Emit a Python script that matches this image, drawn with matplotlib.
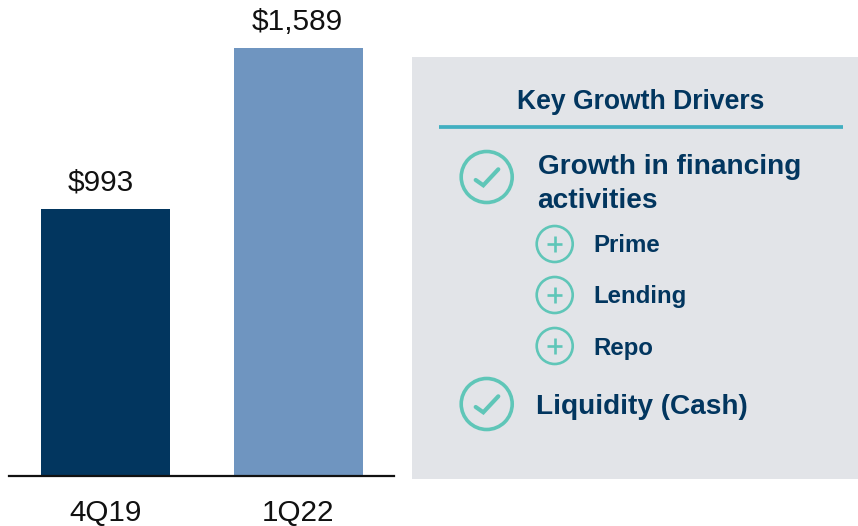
from matplotlib import pyplot as plt
from matplotlib.patches import Circle, Rectangle

FONT = 'Liberation Sans'
NAVY = '#02365F'
TEAL = '#5FC6B8'

quarters = ['4Q19', '1Q22']
values = [993, 1589]
value_labels = ['$993', '$1,589']
bar_colors = ['#02365F', '#6F95C0']

panel_title = 'Key Growth Drivers'
main_drivers = ['Growth in financing\nactivities', 'Liquidity (Cash)']
sub_drivers = ['Prime', 'Lending', 'Repo']


def add_check(ax, cx, cy):
    ax.add_patch(Circle((cx, cy), 25.5, fill=False, ec=TEAL, lw=2.6))
    ax.plot([cx - 11, cx - 3.4, cx + 11.6], [cy + 3, cy + 8.3, cy - 7.7],
            color=TEAL, lw=3, solid_capstyle='round', solid_joinstyle='miter')


def add_plus(ax, cx, cy):
    ax.add_patch(Circle((cx, cy), 18, fill=False, ec=TEAL, lw=1.9))
    ax.plot([cx - 7.7, cx + 7.7], [cy, cy], color=TEAL, lw=1.9, solid_capstyle='butt')
    ax.plot([cx, cx], [cy - 7.7, cy + 7.7], color=TEAL, lw=1.9, solid_capstyle='butt')


fig = plt.figure(figsize=(8.58, 5.26), dpi=100)

# bars, axes spans x 9-394 px and y 0-476 px
ax = fig.add_axes([9 / 858, (526 - 476) / 526, 385 / 858, 476 / 526])
bars = ax.bar(quarters, values, width=0.668, color=bar_colors)
ax.set_xlim(-0.5, 1.495)
ax.set_ylim(0, 1767)
ax.set_yticks([])
for side in ['top', 'right', 'left']:
    ax.spines[side].set_visible(False)
ax.spines['bottom'].set_linewidth(1.6)
ax.spines['bottom'].set_color('#111111')
ax.tick_params(axis='x', length=0, pad=16.5, labelsize=21.3, labelcolor='#111111')
for label in ax.get_xticklabels():
    label.set_fontfamily(FONT)
# the source labels sit a little left of the bar centres
for rect, text, shift in zip(bars, value_labels, [-3.2, -1.1]):
    ax.annotate(text, (rect.get_x() + rect.get_width() / 2, rect.get_height()),
                xytext=(shift, 13), textcoords='offset points', ha='center', va='baseline',
                fontsize=21.4, family=FONT, color='#111111')

# side panel drawn in pixel coordinates
pan = fig.add_axes([0, 0, 1, 1], facecolor='none')
pan.set_xlim(0, 858)
pan.set_ylim(526, 0)
pan.axis('off')
pan.add_patch(Rectangle((412, 57), 446, 422, fc='#E2E4E8', ec='none'))
pan.plot([439, 843], [127, 127], color='#41AFC1', lw=2.7, solid_capstyle='butt')
pan.text(641, 102, panel_title, ha='center', va='center', fontsize=19.1,
         fontweight='bold', family=FONT, color=NAVY)

add_check(pan, 486.7, 177)
pan.text(537.5, 184, main_drivers[0], ha='left', va='center', fontsize=20.15, linespacing=1.4,
         fontweight='bold', family=FONT, color=NAVY)
add_check(pan, 486.7, 404)
pan.text(536, 407, main_drivers[1], ha='left', va='center', fontsize=20.2,
         fontweight='bold', family=FONT, color=NAVY)

for name, y, nudge in zip(sub_drivers, [244, 295, 346], [2, 2, 3]):
    add_plus(pan, 554.7, y)
    pan.text(593.5, y + nudge, name, ha='left', va='center', fontsize=17.3,
             fontweight='bold', family=FONT, color=NAVY)

fig.savefig('out.png', dpi=100)
